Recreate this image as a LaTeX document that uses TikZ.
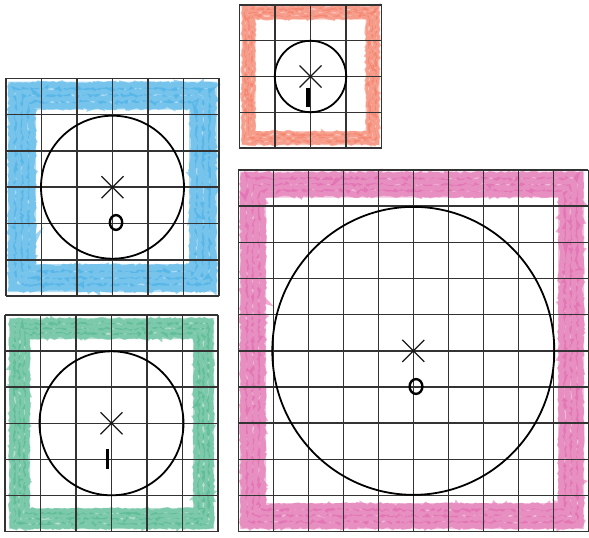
\documentclass[tikz,border=0pt]{standalone}
\usetikzlibrary{decorations.pathmorphing}
\definecolor{cblue}{RGB}{60,170,228}
\definecolor{corange}{RGB}{242,115,90}
\definecolor{cgreen}{RGB}{70,178,135}
\definecolor{cmagenta}{RGB}{222,95,168}
\tikzset{
  gridline/.style={draw=black!80, line width=1.45pt},
  bigcircle/.style={draw=black, line width=1.8pt},
  crossmark/.style={draw=black!90, line width=1.2pt},
  ringmark/.style={draw=black, line width=2.4pt},
  barmark/.style={draw=black, line width=3.4pt},
  crayonfill/.style={fill=#1, fill opacity=0.4, even odd rule},
  crayonstroke/.style={draw=#1, draw opacity=0.5, decorate,
     decoration={random steps, segment length=2.5pt, amplitude=1.6pt}},
}
% #1 x0, #2 y0, #3 n, #4 cell width, #5 cell height
\newcommand\kgrid[5]{%
  \foreach \i in {0,...,#3}{%
    \draw[gridline] ({#1+\i*#4},{#2}) -- ({#1+\i*#4},{#2+#3*#5});
    \draw[gridline] ({#1},{#2+\i*#5}) -- ({#1+#3*#4},{#2+\i*#5});
  }%
}
% #1 colour, #2 x0, #3 y0, #4 x1, #5 y1, #6 band width
\newcommand\kband[6]{%
  \fill[crayonfill=#1] (#2,#3) rectangle (#4,#5) ({#2+#6},{#3+#6}) rectangle ({#4-#6},{#5-#6});
  \foreach \t in {0.15,0.38,0.62,0.85}{%
    \draw[crayonstroke=#1, line width={0.24*#6}]
      ({#2+\t*#6},{#3+\t*#6}) rectangle ({#4-\t*#6},{#5-\t*#6});
  }%
}
\newcommand\kcross[2]{%
  \draw[crossmark] ({#1-11},{#2-11}) -- ({#1+11},{#2+11});
  \draw[crossmark] ({#1-11},{#2+11}) -- ({#1+11},{#2-11});
}
\begin{document}
\begin{tikzpicture}[x=1pt,y=-1pt]
\pgfmathsetseed{7}
\useasboundingbox (0,0) rectangle (589,538);
% colour bands
\kband{corange}{241.5}{5.5}{379.5}{145}{14}
\kband{cblue}{8}{81.5}{217}{292}{28}
\kband{cgreen}{9}{318}{214}{529}{21}
\kband{cmagenta}{240}{171.5}{584}{529}{26}
% grids
\kgrid{239.3}{5}{4}{35.6}{35.75}
\kgrid{6}{78.3}{6}{35.5}{36.3}
\kgrid{5}{315}{6}{35.5}{36.1}
\kgrid{238.3}{170}{10}{35.0}{36.17}
% circles
\draw[bigcircle] (310.5,76.5) circle [radius=35.7];
\draw[bigcircle] (112.5,187.2) circle [radius=71.5];
\draw[bigcircle] (111.5,423.3) circle [radius=72];
\draw[bigcircle] (413.3,350.85) ellipse [x radius=141, y radius=144];
% centre crosses
\kcross{310.5}{76.5}
\kcross{112.5}{187.2}
\kcross{111.5}{423.3}
\kcross{413.3}{350.85}
% marks
\draw[ringmark] (116,222.5) ellipse [x radius=6.2, y radius=7.4];
\draw[ringmark] (416,386.5) ellipse [x radius=6.4, y radius=7.4];
\draw[barmark] (307.8,87.5) -- (307.8,107);
\draw[barmark] (107.3,448.5) -- (107.3,468.5);
\end{tikzpicture}
\end{document}
